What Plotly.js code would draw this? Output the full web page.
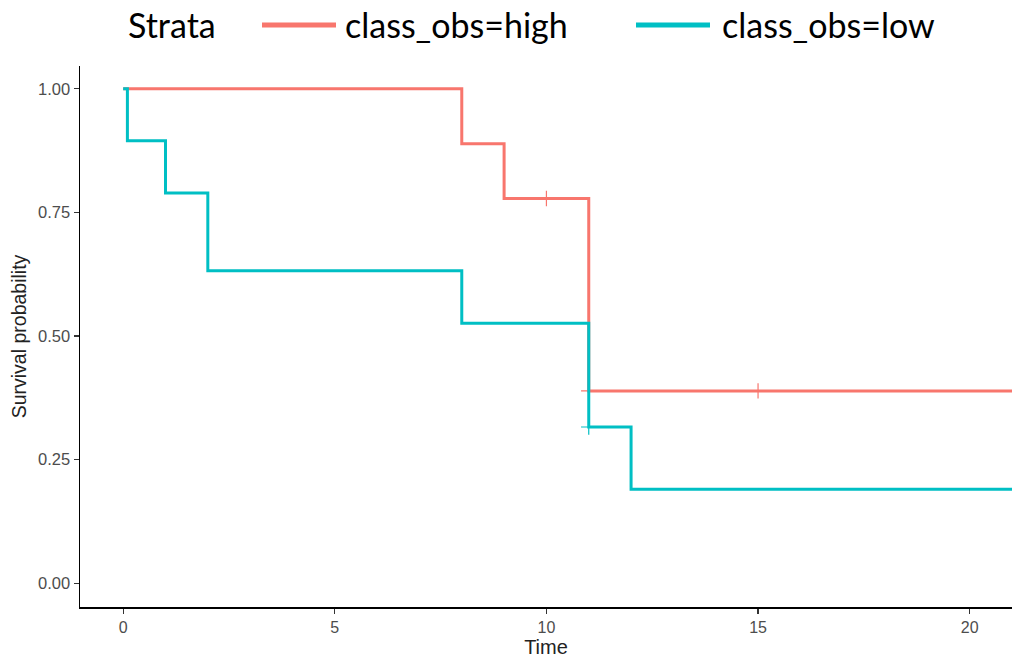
<!DOCTYPE html>
<html>
<head>
<meta charset="utf-8">
<script src="https://cdn.plot.ly/plotly-3.0.1.min.js"></script>
<style>
  html, body { margin: 0; padding: 0; background: #ffffff; }
  #chart { width: 1016px; height: 660px; }
</style>
</head>
<body>
<div id="chart"></div>
<script>
// Kaplan-Meier step curves per stratum
const highTime = [0, 8, 9, 11, 21];
const highSurv = [1.0, 0.889, 0.778, 0.389, 0.389];
const highCensorTime = [10, 11, 15];
const highCensorSurv = [0.778, 0.389, 0.389];

const lowTime = [0, 0.1, 1, 2, 8, 11, 12, 21];
const lowSurv = [1.0, 0.895, 0.789, 0.632, 0.526, 0.316, 0.190, 0.190];
const lowCensorTime = [11];
const lowCensorSurv = [0.316];

const strataNames = ["class_obs=high", "class_obs=low"];
const strataColors = ["#F8766D", "#00BFC4"];

const xTicks = [0, 5, 10, 15, 20];
const yTicks = [0, 0.25, 0.5, 0.75, 1.0];
const yTickText = ["0.00", "0.25", "0.50", "0.75", "1.00"];

function stepTrace(t, s, color, name) {
  return {
    x: t, y: s, type: "scatter", mode: "lines", name: name,
    line: { shape: "hv", color: color, width: 3 },
    showlegend: false, hoverinfo: "x+y"
  };
}
function censorTrace(t, s, color, name) {
  return {
    x: t, y: s, type: "scatter", mode: "markers", name: name,
    marker: { symbol: "cross-thin", size: 11, line: { color: color, width: 1.2 } },
    showlegend: false, hoverinfo: "x+y"
  };
}

const data = [
  stepTrace(highTime, highSurv, strataColors[0], strataNames[0]),
  censorTrace(highCensorTime, highCensorSurv, strataColors[0], strataNames[0]),
  stepTrace(lowTime, lowSurv, strataColors[1], strataNames[1]),
  censorTrace(lowCensorTime, lowCensorSurv, strataColors[1], strataNames[1])
];

// plot area in pixels: x 80..1012, y 66..607
const plotL = 80, plotR = 1012, plotT = 66, plotB = 607;
const px = v => (v - plotL) / (plotR - plotL);
const py = v => (plotB - v) / (plotB - plotT);

const legendY = py(25);
const legendFont = { family: "Lato, 'Open Sans', sans-serif", size: 34, color: "#000000" };
const sans = "'Liberation Sans', Arial, sans-serif";

const layout = {
  width: 1016, height: 660,
  margin: { l: plotL, r: 1016 - plotR, t: plotT, b: 660 - plotB },
  paper_bgcolor: "#ffffff", plot_bgcolor: "#ffffff",
  showlegend: false,
  xaxis: {
    range: [-1.02, 21.0], tickvals: xTicks, ticktext: xTicks.map(String),
    showgrid: false, zeroline: false,
    showline: true, linecolor: "#000000", linewidth: 1.5,
    ticks: "outside", ticklen: 5, tickwidth: 1.2, tickcolor: "#333333",
    tickfont: { family: sans, size: 16, color: "#4d4d4d" },
    title: { text: "Time", font: { family: sans, size: 20, color: "#222222" }, standoff: 4 }
  },
  yaxis: {
    range: [-0.048, 1.046], tickvals: yTicks, ticktext: yTickText,
    showgrid: false, zeroline: false,
    showline: true, linecolor: "#000000", linewidth: 1.5,
    ticks: "outside", ticklen: 5, tickwidth: 1.2, tickcolor: "#333333",
    tickfont: { family: sans, size: 16.5, color: "#4d4d4d" },
    title: { text: "Survival probability", font: { family: sans, size: 19.5, color: "#222222" }, standoff: 6 }
  },
  shapes: [
    { type: "line", xref: "paper", yref: "paper", x0: px(262), x1: px(336), y0: legendY, y1: legendY,
      line: { color: strataColors[0], width: 5 } },
    { type: "line", xref: "paper", yref: "paper", x0: px(636), x1: px(710), y0: legendY, y1: legendY,
      line: { color: strataColors[1], width: 5 } }
  ],
  annotations: [
    { text: "Strata", xref: "paper", yref: "paper", x: px(126), y: legendY, xanchor: "left", yanchor: "middle",
      showarrow: false, font: legendFont },
    { text: strataNames[0], xref: "paper", yref: "paper", x: px(343), y: legendY, xanchor: "left", yanchor: "middle",
      showarrow: false, font: legendFont },
    { text: strataNames[1], xref: "paper", yref: "paper", x: px(720), y: legendY, xanchor: "left", yanchor: "middle",
      showarrow: false, font: legendFont }
  ]
};

Plotly.newPlot("chart", data, layout, { displayModeBar: false, staticPlot: true });
</script>
</body>
</html>
